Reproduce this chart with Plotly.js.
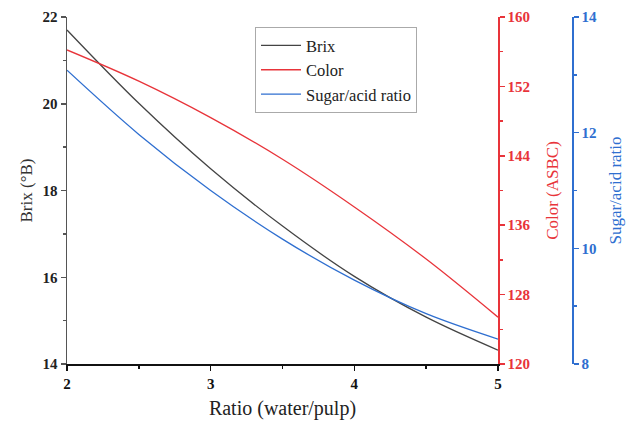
<!DOCTYPE html>
<html>
<head>
<meta charset="utf-8">
<script src="https://cdn.plot.ly/plotly-3.0.1.min.js"></script>
<style>html,body{margin:0;padding:0;background:#fff;}#chart{width:632px;height:429px;}</style>
</head>
<body>
<div id="chart"></div>
<script>
const ratio = [2, 2.5, 3, 3.5, 4, 4.5, 5];
const brix = [21.70, 20.01, 18.50, 17.18, 16.02, 15.08, 14.32];
const color = [156.2, 152.6, 148.4, 143.6, 138.1, 132.1, 125.4];
const sugarAcid = [13.08, 11.97, 11.00, 10.16, 9.45, 8.87, 8.43];

const FONT = 'Liberation Serif, Times New Roman, serif';
const RED = '#e8343a';
const BLUE = '#2f6fd0';
const DARK = '#444444';

const traces = [
  {x: ratio, y: brix, name: 'Brix', type: 'scatter', mode: 'lines',
   line: {color: DARK, width: 1.3, shape: 'spline'}, yaxis: 'y'},
  {x: ratio, y: color, name: 'Color', type: 'scatter', mode: 'lines',
   line: {color: RED, width: 1.3, shape: 'spline'}, yaxis: 'y2'},
  {x: ratio, y: sugarAcid, name: 'Sugar/acid ratio', type: 'scatter', mode: 'lines',
   line: {color: BLUE, width: 1.3, shape: 'spline'}, yaxis: 'y3'}
];

const W = 632 - 67 - 40;
const layout = {
  width: 632, height: 429,
  margin: {l: 67, r: 40, t: 17, b: 65},
  paper_bgcolor: '#fff', plot_bgcolor: '#fff',
  font: {family: FONT, size: 15, color: '#222'},
  showlegend: true,
  legend: {x: (255 - 67) / W, y: 0.971, xanchor: 'left', yanchor: 'top',
    bordercolor: '#aaaaaa', borderwidth: 1, bgcolor: '#fff',
    font: {family: FONT, size: 16.5, color: '#222'}, itemwidth: 40, tracegroupgap: 0},
  xaxis: {
    domain: [0, 431 / W], range: [2, 5], dtick: 1, tick0: 2,
    showgrid: false, zeroline: false,
    showline: true, linecolor: '#111', linewidth: 2,
    ticks: 'outside', ticklen: 5, tickwidth: 1.5, tickcolor: '#111',
    minor: {dtick: 0.5, ticks: 'outside', ticklen: 3, tickwidth: 1.5, tickcolor: '#111'},
    tickfont: {family: FONT, size: 15, color: '#111', weight: 'bold'},
    title: {text: 'Ratio (water/pulp)', font: {family: FONT, size: 20, color: '#222'}, standoff: 10},
    automargin: false
  },
  yaxis: {
    range: [14, 22], dtick: 2, tick0: 14,
    showgrid: false, zeroline: false,
    showline: true, linecolor: '#555', linewidth: 1.5,
    ticks: 'outside', ticklen: 5, tickwidth: 1.5, tickcolor: '#555',
    minor: {dtick: 1, ticks: 'outside', ticklen: 3, tickwidth: 1.5, tickcolor: '#555'},
    tickfont: {family: FONT, size: 15, color: '#222', weight: 'bold'},
    title: {text: 'Brix (°B)', font: {family: FONT, size: 17, color: '#333'}, standoff: 5},
    automargin: false
  },
  yaxis2: {
    overlaying: 'y', side: 'right', anchor: 'x',
    range: [120, 160], dtick: 8, tick0: 120,
    showgrid: false, zeroline: false,
    showline: true, linecolor: RED, linewidth: 1.5,
    ticks: 'outside', ticklen: 5, tickwidth: 1.5, tickcolor: RED,
    minor: {dtick: 4, ticks: 'outside', ticklen: 3, tickwidth: 1.5, tickcolor: RED},
    tickfont: {family: FONT, size: 15, color: RED, weight: 'bold'},
    title: {text: 'Color (ASBC)', font: {family: FONT, size: 17, color: RED}, standoff: 16},
    automargin: false
  },
  yaxis3: {
    overlaying: 'y', side: 'right', anchor: 'free', position: (572 - 67) / W,
    range: [8, 14], dtick: 2, tick0: 8,
    showgrid: false, zeroline: false,
    showline: true, linecolor: BLUE, linewidth: 1.5,
    ticks: 'outside', ticklen: 5, tickwidth: 1.5, tickcolor: BLUE,
    minor: {dtick: 1, ticks: 'outside', ticklen: 3, tickwidth: 1.5, tickcolor: BLUE},
    tickfont: {family: FONT, size: 15, color: BLUE, weight: 'bold'},
    title: {text: 'Sugar/acid ratio', font: {family: FONT, size: 17, color: BLUE}, standoff: 13},
    automargin: false
  }
};

Plotly.newPlot('chart', traces, layout, {displayModeBar: false, staticPlot: true});
</script>
</body>
</html>
